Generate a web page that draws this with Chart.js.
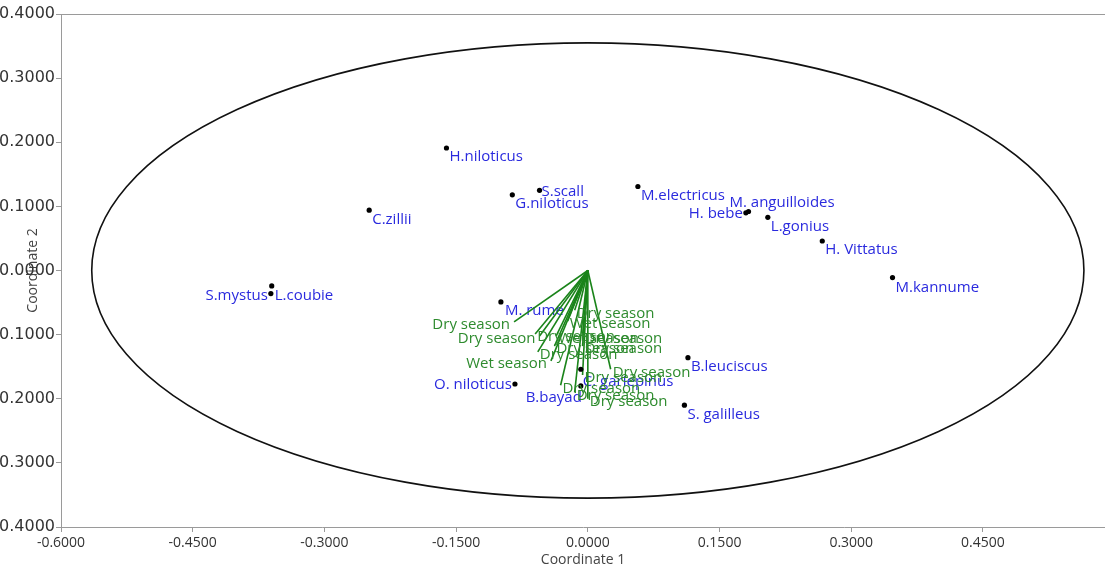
<!DOCTYPE html>
<html><head><meta charset="utf-8">
<script src="https://cdn.jsdelivr.net/npm/chart.js@4"></script>
<style>html,body{margin:0;padding:0;background:#fff;overflow:hidden}#wrap{position:relative;width:1105px;height:571px}</style>
</head><body><div id="wrap"><canvas id="c"></canvas></div>
<script>
// ---- data ----
const speciesNames = ["H.niloticus","S.scall","G.niloticus","C.zillii","L.coubie","S.mystus","M. rume","O. niloticus","C. gariepinus","B.bayad","B.leuciscus","S. galilleus","M.electricus","H. bebe","M. anguilloides","L.gonius","H. Vittatus","M.kannume"];
const speciesX = [-0.161,-0.055,-0.086,-0.249,-0.360,-0.361,-0.099,-0.083,-0.008,-0.008,0.114,0.110,0.057,0.180,0.183,0.205,0.267,0.347];
const speciesY = [0.191,0.125,0.118,0.094,-0.024,-0.036,-0.049,-0.177,-0.154,-0.180,-0.136,-0.210,0.131,0.090,0.092,0.083,0.046,-0.011];

const vectorLabels = ["Dry season","Wet season","Dry season","Wet season","Dry season","Dry season","Dry season","Dry season","Dry season","Dry season","Dry season","Dry season","Dry season","Dry season","Dry season","Wet season"];
const vectorX = [-0.015,-0.023,-0.060,-0.036,-0.006,-0.038,-0.006,-0.057,0.026,-0.006,-0.031,-0.015,0.000,-0.084,-0.055,-0.042];
const vectorY = [-0.062,-0.079,-0.099,-0.102,-0.102,-0.118,-0.118,-0.127,-0.154,-0.163,-0.179,-0.190,-0.200,-0.080,-0.102,-0.141];

const xTicks = [-0.6,-0.45,-0.3,-0.15,0,0.15,0.3,0.45];
const yTicks = [-0.4,-0.3,-0.2,-0.1,0,0.1,0.2,0.3,0.4];
const ellipseCenter = [0, 0];
const ellipseRadii = [0.565, 0.355];

// ---- label placement (style) ----
// [dx, dy, textAlign]
const speciesLabelPlace = [[3,9,'left'],[2,1,'left'],[3,9,'left'],[3,10,'left'],[3,10,'left'],[-3,2,'right'],[4,9,'left'],[-3,1,'right'],[2,12,'left'],[1,12,'right'],[3,9,'left'],[3,10,'left'],[3,9,'left'],[-3,1,'right'],[-19,-9,'left'],[3,9,'left'],[3,9,'left'],[3,10,'left']];
const vectorLabelAlign = ['left','left','left','left','left','left','left','left','left','left','left','left','left','right','right','right'];

const BLUE = '#2a2ade', GREEN_T = '#2e8b2e', GREEN_L = '#1a841a';
const LFONT = '15px "Open Sans"';

const overlay = {
  id: 'overlay',
  beforeDatasetsDraw(chart) {
    const {ctx, chartArea: a, scales: {x, y}} = chart;
    ctx.save();
    ctx.strokeStyle = '#9a9a9a'; ctx.lineWidth = 1;
    ctx.beginPath(); ctx.moveTo(a.left, a.top + 0.5); ctx.lineTo(a.right, a.top + 0.5); ctx.stroke();
    const cx = x.getPixelForValue(ellipseCenter[0]), cy = y.getPixelForValue(ellipseCenter[1]);
    const rx = x.getPixelForValue(ellipseCenter[0] + ellipseRadii[0]) - cx;
    const ry = cy - y.getPixelForValue(ellipseCenter[1] + ellipseRadii[1]);
    ctx.strokeStyle = '#111'; ctx.lineWidth = 1.6;
    ctx.beginPath(); ctx.ellipse(cx, cy, rx, ry, 0, 0, Math.PI * 2); ctx.stroke();
    // species labels
    ctx.font = LFONT; ctx.fillStyle = BLUE; ctx.textBaseline = 'middle';
    speciesNames.forEach((n, i) => {
      const p = speciesLabelPlace[i];
      ctx.textAlign = p[2];
      ctx.fillText(n, x.getPixelForValue(speciesX[i]) + p[0], y.getPixelForValue(speciesY[i]) + p[1]);
    });
    ctx.restore();
  },
  afterDatasetsDraw(chart) {
    const {ctx, scales: {x, y}} = chart;
    ctx.save();
    ctx.font = LFONT; ctx.fillStyle = GREEN_T; ctx.textBaseline = 'middle';
    vectorLabels.forEach((t, i) => {
      const al = vectorLabelAlign[i];
      ctx.textAlign = al;
      ctx.fillText(t, x.getPixelForValue(vectorX[i]) + (al === 'left' ? 2 : -4), y.getPixelForValue(vectorY[i]) + 3);
    });
    ctx.restore();
  }
};

const datasets = [{
  data: speciesX.map((v, i) => ({x: v, y: speciesY[i]})),
  pointRadius: 2.6, pointBackgroundColor: '#000', pointBorderWidth: 0, showLine: false
}];
vectorX.forEach((v, i) => datasets.push({
  data: [{x: 0, y: 0}, {x: v, y: vectorY[i]}],
  showLine: true, borderColor: GREEN_L, borderWidth: 1.6, pointRadius: 0
}));

new Chart(document.getElementById('c'), {
  type: 'scatter',
  data: {datasets},
  options: {
    responsive: true, maintainAspectRatio: false, animation: false, devicePixelRatio: 1,
    layout: {autoPadding: false, padding: {top: 14, left: 0, right: 0, bottom: 0}},
    plugins: {legend: {display: false}, tooltip: {enabled: false}},
    scales: {
      x: {
        type: 'linear', min: -0.6, max: 0.589,
        afterBuildTicks: s => { s.ticks = xTicks.map(v => ({value: v})); },
        afterFit: s => { s.height = 44; },
        ticks: {callback: v => Number(v).toFixed(4), color: '#333', font: {family: 'Open Sans', size: 14}, padding: 3, maxRotation: 0, autoSkip: false},
        grid: {display: true, drawOnChartArea: false, drawTicks: true, tickLength: 5, color: '#9a9a9a'},
        border: {display: true, color: '#9a9a9a', width: 1},
        title: {display: true, text: 'Coordinate 1', color: '#444', font: {family: 'Open Sans', size: 14}, padding: {top: 0, bottom: 3}}
      },
      y: {
        type: 'linear', min: -0.4, max: 0.4,
        afterBuildTicks: s => { s.ticks = yTicks.map(v => ({value: v})); },
        afterFit: s => { s.width = 61; },
        ticks: {callback: v => Number(v).toFixed(4), color: '#333', font: {family: 'DejaVu Sans', size: 16}, padding: 1, autoSkip: false},
        grid: {display: true, drawOnChartArea: false, drawTicks: true, tickLength: 5, color: '#9a9a9a'},
        border: {display: true, color: '#9a9a9a', width: 1},
        title: {display: true, text: 'Coordinate 2', color: '#444', font: {family: 'Open Sans', size: 14}, padding: {top: 25, bottom: 0}}
      }
    }
  },
  plugins: [overlay]
});
</script>
</body></html>
